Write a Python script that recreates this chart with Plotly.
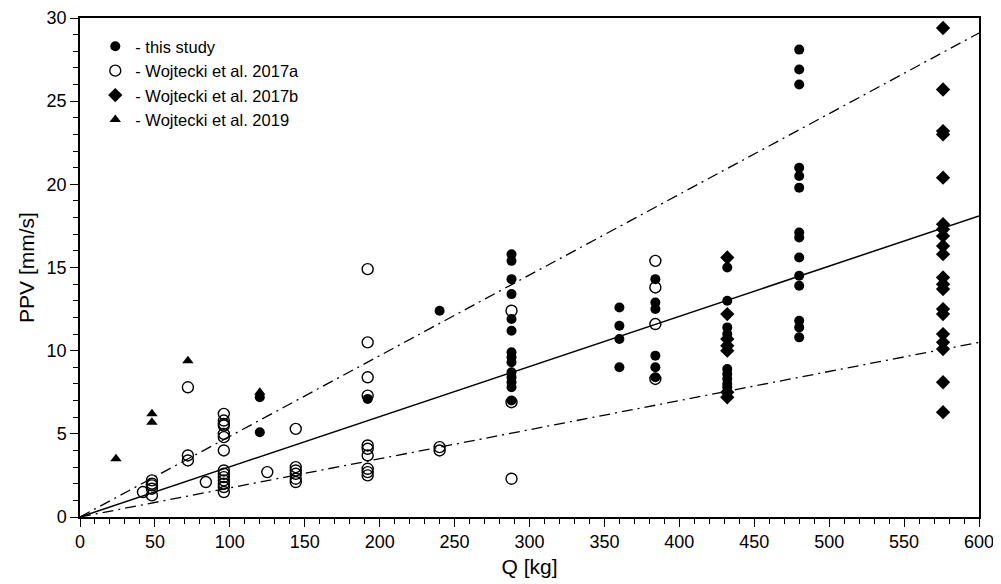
import plotly.graph_objects as go

# ---- data ----
this_q = [120, 120, 192, 240,
          288, 288, 288, 288, 288, 288, 288, 288, 288, 288, 288, 288, 288, 288,
          360, 360, 360, 360,
          384, 384, 384, 384, 384, 384,
          432, 432, 432, 432, 432, 432, 432, 432, 432,
          480, 480, 480, 480, 480, 480, 480, 480, 480, 480, 480, 480, 480, 480]
this_ppv = [7.2, 5.1, 7.1, 12.4,
            15.8, 15.4, 14.3, 13.4, 11.9, 11.2, 9.9, 9.6, 9.3, 8.7, 8.4, 8.1, 7.8, 7.0,
            12.6, 11.5, 10.7, 9.0,
            14.3, 12.9, 12.5, 9.7, 9.0, 8.4,
            15.0, 13.0, 11.4, 11.0, 8.9, 8.6, 8.3, 8.0, 7.8,
            28.1, 26.9, 26.0, 21.0, 20.5, 19.8, 17.1, 16.8, 15.6, 14.5, 13.9, 11.8, 11.4, 10.8]

w17a_q = [42, 48, 48, 48, 48, 48,
          72, 72, 72,
          84,
          96, 96, 96, 96, 96, 96, 96, 96, 96, 96, 96, 96, 96, 96,
          125,
          144, 144, 144, 144, 144, 144,
          192, 192, 192, 192, 192, 192, 192, 192, 192, 192,
          240, 240,
          288, 288, 288,
          384, 384, 384, 384]
w17a_ppv = [1.5, 2.2, 2.0, 1.9, 1.7, 1.3,
            7.8, 3.7, 3.4,
            2.1,
            6.2, 5.8, 5.6, 5.5, 5.0, 4.8, 4.0, 2.8, 2.6, 2.4, 2.2, 2.0, 1.8, 1.5,
            2.7,
            5.3, 3.0, 2.8, 2.6, 2.3, 2.1,
            14.9, 10.5, 8.4, 7.3, 4.3, 4.1, 3.7, 2.9, 2.7, 2.5,
            4.2, 4.0,
            12.4, 6.9, 2.3,
            15.4, 13.8, 11.6, 8.3]

w17b_q = [432, 432, 432, 432, 432, 432, 432,
          576, 576, 576, 576, 576, 576, 576, 576, 576, 576, 576, 576, 576, 576,
          576, 576, 576, 576, 576, 576]
w17b_ppv = [15.6, 12.2, 10.7, 10.3, 10.0, 7.5, 7.2,
            29.4, 25.7, 23.2, 23.0, 20.4, 17.6, 17.3, 16.9, 16.3, 15.8, 14.4, 14.0,
            13.7, 12.5, 12.2, 11.0, 10.5, 10.1, 8.1, 6.3]

w19_q = [24, 48, 48, 72, 120]
w19_ppv = [3.5, 6.2, 5.7, 9.4, 7.5]

fit_q = [0, 600]
fit_mid = [0, 18.1]
fit_upper = [0, 29.1]
fit_lower = [0, 10.5]

x_ticks = list(range(0, 601, 50))
y_ticks = list(range(0, 31, 5))

# ---- figure ----
fig = go.Figure()

dashdot = "11px,5px,2px,5px"
fig.add_trace(go.Scatter(x=fit_q, y=fit_upper, mode="lines", showlegend=False,
                         line=dict(color="black", width=1.3, dash=dashdot)))
fig.add_trace(go.Scatter(x=fit_q, y=fit_lower, mode="lines", showlegend=False,
                         line=dict(color="black", width=1.3, dash=dashdot)))
fig.add_trace(go.Scatter(x=fit_q, y=fit_mid, mode="lines", showlegend=False,
                         line=dict(color="black", width=1.5)))

fig.add_trace(go.Scatter(x=this_q, y=this_ppv, mode="markers", name="- this study",
                         marker=dict(symbol="circle", size=10, color="black")))
fig.add_trace(go.Scatter(x=w17a_q, y=w17a_ppv, mode="markers", name="- Wojtecki et al. 2017a",
                         marker=dict(symbol="circle-open", size=11, color="black",
                                     line=dict(width=1.4, color="black"))))
fig.add_trace(go.Scatter(x=w17b_q, y=w17b_ppv, mode="markers", name="- Wojtecki et al. 2017b",
                         marker=dict(symbol="diamond", size=11, color="black")))
fig.add_trace(go.Scatter(x=w19_q, y=w19_ppv, mode="markers", name="- Wojtecki et al. 2019",
                         marker=dict(symbol="triangle-up", size=10, color="black")))

font_main = "Arial, Liberation Sans, sans-serif"

fig.update_layout(
    width=1001, height=584,
    margin=dict(l=72, r=30, t=10, b=75),
    paper_bgcolor="white", plot_bgcolor="white",
    font=dict(family=font_main, color="black", size=16),
    legend=dict(x=0.017, y=0.978, xanchor="left", yanchor="top",
                bgcolor="rgba(0,0,0,0)", font=dict(size=16.5, family=font_main),
                itemwidth=30, tracegroupgap=0),
    showlegend=True,
)

fig.update_xaxes(
    range=[0, 600], tickvals=x_ticks, ticktext=[str(v) for v in x_ticks],
    ticks="outside", ticklen=8, tickwidth=1.3, tickcolor="black",
    minor=dict(dtick=10, ticks="outside", ticklen=5, tickwidth=1, tickcolor="black", showgrid=False),
    showgrid=False, zeroline=False, automargin=False,
    showline=True, linecolor="black", linewidth=1.5, mirror=True,
    tickfont=dict(family=font_main, size=18),
    title=dict(text="Q [kg]", font=dict(size=21, family=font_main), standoff=8),
)
fig.update_yaxes(
    range=[0, 30], tickvals=y_ticks, ticktext=[str(v) for v in y_ticks],
    ticks="outside", ticklen=8, tickwidth=1.3, tickcolor="black",
    minor=dict(dtick=1, ticks="outside", ticklen=5, tickwidth=1, tickcolor="black", showgrid=False),
    showgrid=False, zeroline=False, automargin=False,
    showline=True, linecolor="black", linewidth=1.5, mirror=True,
    tickfont=dict(family=font_main, size=18),
    title=dict(text="PPV [mm/s]", font=dict(size=21, family=font_main), standoff=6),
)

fig.write_html("out.html")
